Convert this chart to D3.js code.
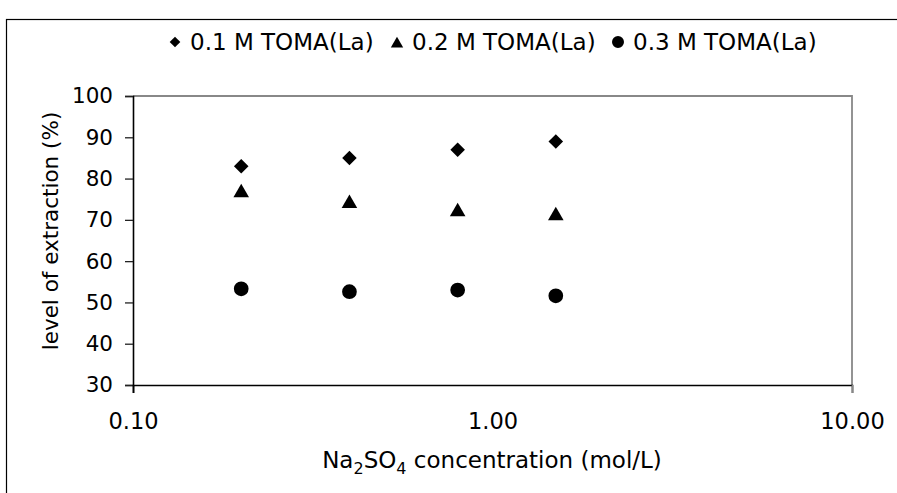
<!DOCTYPE html>
<html>
<head>
<meta charset="utf-8">
<script src="https://cdn.jsdelivr.net/npm/d3@7"></script>
<style>
  body { margin: 0; background: #fff; }
  text { font-family: "DejaVu Sans", Verdana, sans-serif; fill: #000; }
</style>
</head>
<body>
<svg id="chart" width="897" height="493"></svg>
<script>
// data
var concentration = [0.2, 0.4, 0.8, 1.5];
var toma01 = [83, 85, 87, 89];
var toma02 = [77.1, 74.5, 72.5, 71.5];
var toma03 = [53.3, 52.6, 53.0, 51.6];
var seriesNames = ["0.1 M TOMA(La)", "0.2 M TOMA(La)", "0.3 M TOMA(La)"];
var xTicks = [0.1, 1, 10];
var yTicks = [30, 40, 50, 60, 70, 80, 90, 100];

var svg = d3.select("#chart");

// outer frame (runs off the right and bottom edge)
svg.append("rect")
    .attr("x", 6.5).attr("y", 19.5)
    .attr("width", 900).attr("height", 500)
    .attr("fill", "none").attr("stroke", "#000").attr("stroke-width", 1.2);

var margin = {top: 96, left: 133},
    width = 852 - 133,
    height = 385 - 96;

var g = svg.append("g")
    .attr("transform", "translate(" + margin.left + "," + margin.top + ")");

var x = d3.scaleLog().domain([0.1, 10]).range([0, width]);
var y = d3.scaleLinear().domain([30, 100]).range([height, 0]);

// plot area border (grey top/right)
g.append("path")
    .attr("d", "M0,0H" + width + "V" + height)
    .attr("fill", "none").attr("stroke", "#888").attr("stroke-width", 1.8);

// y axis
var yAxis = g.append("g")
    .call(d3.axisLeft(y).tickValues(yTicks).tickSize(8).tickPadding(12));
yAxis.select(".domain").attr("stroke", "#000").attr("stroke-width", 1.6);
yAxis.selectAll(".tick line").attr("stroke", "#222").attr("stroke-width", 1.3);
yAxis.selectAll(".tick text").style("font-size", "21.5px");

// x axis
var xAxis = g.append("g")
    .attr("transform", "translate(0," + height + ")")
    .call(d3.axisBottom(x).tickValues(xTicks).tickFormat(d3.format(".2f"))
        .tickSize(8).tickPadding(20));
xAxis.select(".domain").attr("stroke", "#000").attr("stroke-width", 1.6);
xAxis.selectAll(".tick line").attr("stroke", function(d) { return d === 10 ? "#888" : "#000"; })
    .attr("stroke-width", function(d) { return d === 1 ? 0 : 1.6; });
xAxis.selectAll(".tick text").style("font-size", "22.5px");

// markers
var shapes = [d3.symbolDiamond2, d3.symbolTriangle, d3.symbolCircle];
var sizes = [135, 105, 170];
var allSeries = [toma01, toma02, toma03];

allSeries.forEach(function(vals, i) {
    var sym = d3.symbol().type(shapes[i]).size(sizes[i]);
    g.selectAll(".s" + i)
        .data(vals)
        .enter().append("path")
        .attr("class", "s" + i)
        .attr("d", sym)
        .attr("transform", function(d, j) {
            var dy = i === 1 ? 2.2 : 0;   // centre triangle on its box
            return "translate(" + x(concentration[j]) + "," + (y(d) + dy) + ")";
        })
        .attr("fill", "#000");
});

// legend
var legendX = [175, 397, 618];
var legendSizes = [72, 66, 113];
var legend = svg.append("g");
seriesNames.forEach(function(name, i) {
    var sym = d3.symbol().type(shapes[i]).size(legendSizes[i]);
    legend.append("path")
        .attr("d", sym)
        .attr("transform", "translate(" + legendX[i] + "," + (i === 1 ? 44 : 42) + ")")
        .attr("fill", "#000");
    legend.append("text")
        .attr("x", legendX[i] + 15)
        .attr("y", 50)
        .style("font-size", "23px")
        .text(name);
});

// axis titles
svg.append("text")
    .attr("transform", "translate(58,231) rotate(-90)")
    .attr("text-anchor", "middle")
    .style("font-size", "21.5px")
    .text("level of extraction (%)");

var xt = svg.append("text")
    .attr("x", 492).attr("y", 468)
    .attr("text-anchor", "middle")
    .style("font-size", "23px");
xt.append("tspan").text("Na");
xt.append("tspan").attr("dy", 6).style("font-size", "16px").text("2");
xt.append("tspan").attr("dy", -6).text("SO");
xt.append("tspan").attr("dy", 6).style("font-size", "16px").text("4");
xt.append("tspan").attr("dy", -6).text(" concentration (mol/L)");
</script>
</body>
</html>
